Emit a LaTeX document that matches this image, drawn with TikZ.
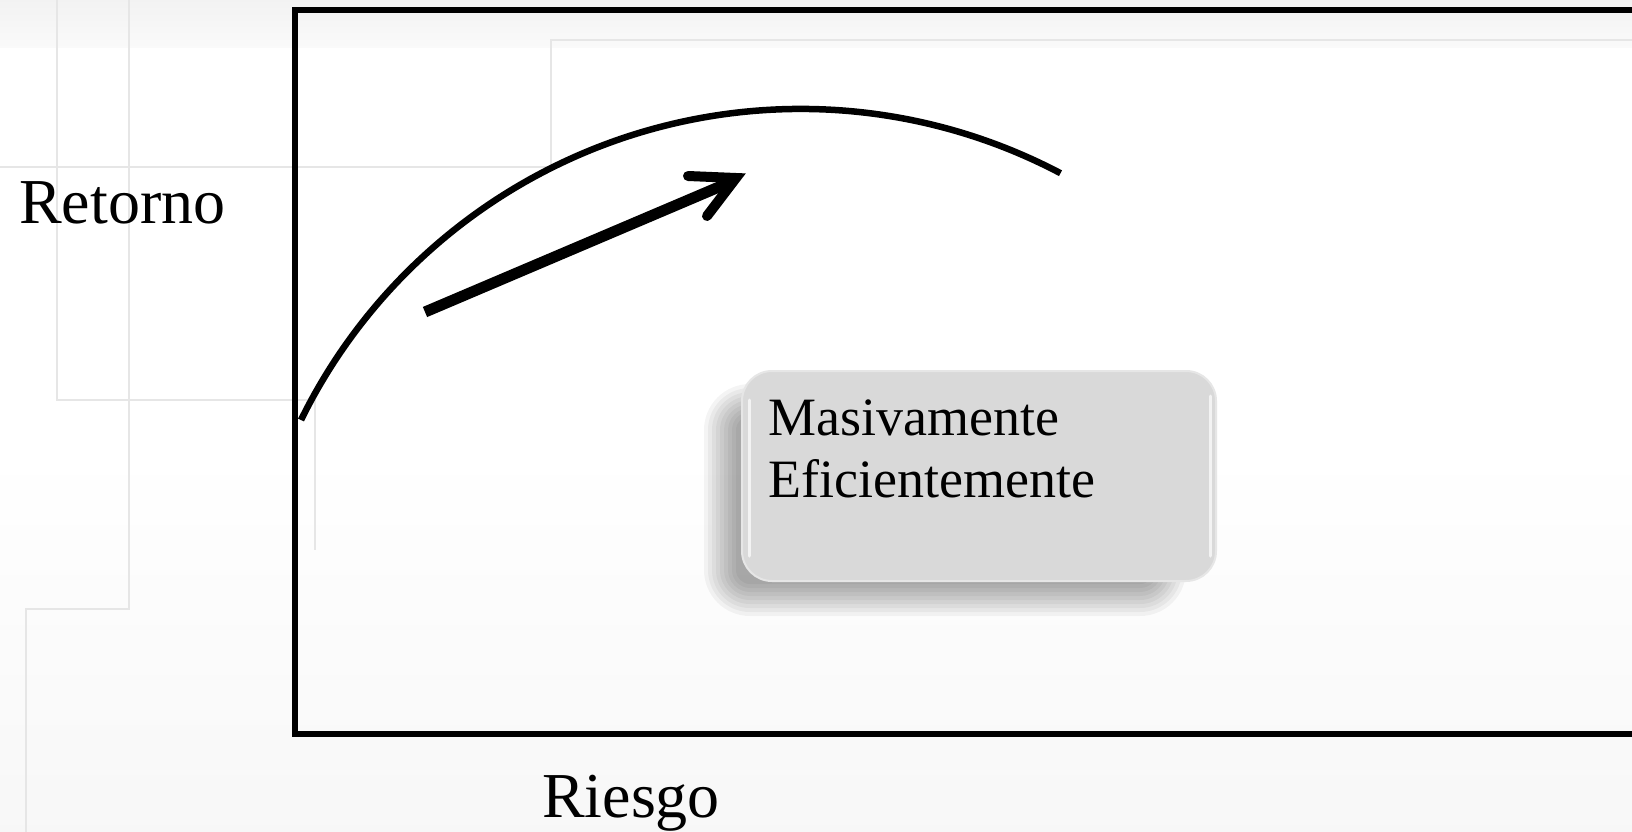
\documentclass[tikz,border=0pt]{standalone}
\usepackage{fontspec}
\setmainfont{Liberation Serif}
\definecolor{faintline}{HTML}{E6E6E6}
\definecolor{boxfill}{HTML}{D9D9D9}
\definecolor{boxrim}{HTML}{E6E6E6}
\begin{document}
\begin{tikzpicture}[x=1pt,y=-1pt,
  faint/.style={draw=faintline, line width=2pt},
  axislabel/.style={anchor=base west, inner sep=0pt, font=\fontsize{64}{70}\selectfont},
  boxtext/.style={anchor=base west, inner sep=0pt, font=\fontsize{54}{62}\selectfont},
  glossbox/.style={draw=boxrim, line width=2pt, fill=boxfill, rounded corners=30pt,
    minimum width=474pt, minimum height=210pt, inner sep=0pt}]
\useasboundingbox (0,0) rectangle (1632,832);
% background
\fill[white] (0,0) rectangle (1632,832);
\shade[top color=black!5, bottom color=black!2] (0,0) rectangle (1632,48);
\shade[top color=white, bottom color=black!3] (0,450) rectangle (1632,832);
% faint background lines
\draw[faint] (57,0) |- (315,400) -- (315,550);
\draw[faint] (129,0) -- (129,609) -- (26,609) -- (26,832);
\draw[faint] (0,167) -- (551,167) -- (551,40) -- (1632,40);
% frame
\draw[line width=6pt, line join=miter] (1640,10) -- (295,10) -- (295,734) -- (1640,734);
% curve
\draw[line width=6.5pt] (301,420) arc[start angle=-153.8, end angle=-62.2, radius=557];
% arrow
\draw[line width=11pt] (425,312) -- (733,181);
\draw[line width=10pt, line cap=round, line join=miter] (688,176) -- (736,178) -- (707,216);
% soft shadow
\foreach \k [evaluate=\k as \r using 14+\k] in {0,4,...,32}
  \fill[black, opacity=0.045, rounded corners=\r pt] (736-\k,416-\k) rectangle (1154+\k,584+\k);
% box
\node[glossbox] (box) at (979,476) {};
\draw[white, line width=3pt, opacity=0.7, line cap=round] (749,400) -- (749,556);
\draw[white, line width=3pt, opacity=0.7, line cap=round] (1210,396) -- (1210,556);
\node[boxtext] (m1) at (768,435) {Masivamente};
\node[boxtext] (m2) at (768,497) {Eficientemente};
% labels
\node[axislabel] (ret) at (19,223) {Retorno};
\node[axislabel] (rie) at (542,817) {Riesgo};
\end{tikzpicture}
\end{document}
